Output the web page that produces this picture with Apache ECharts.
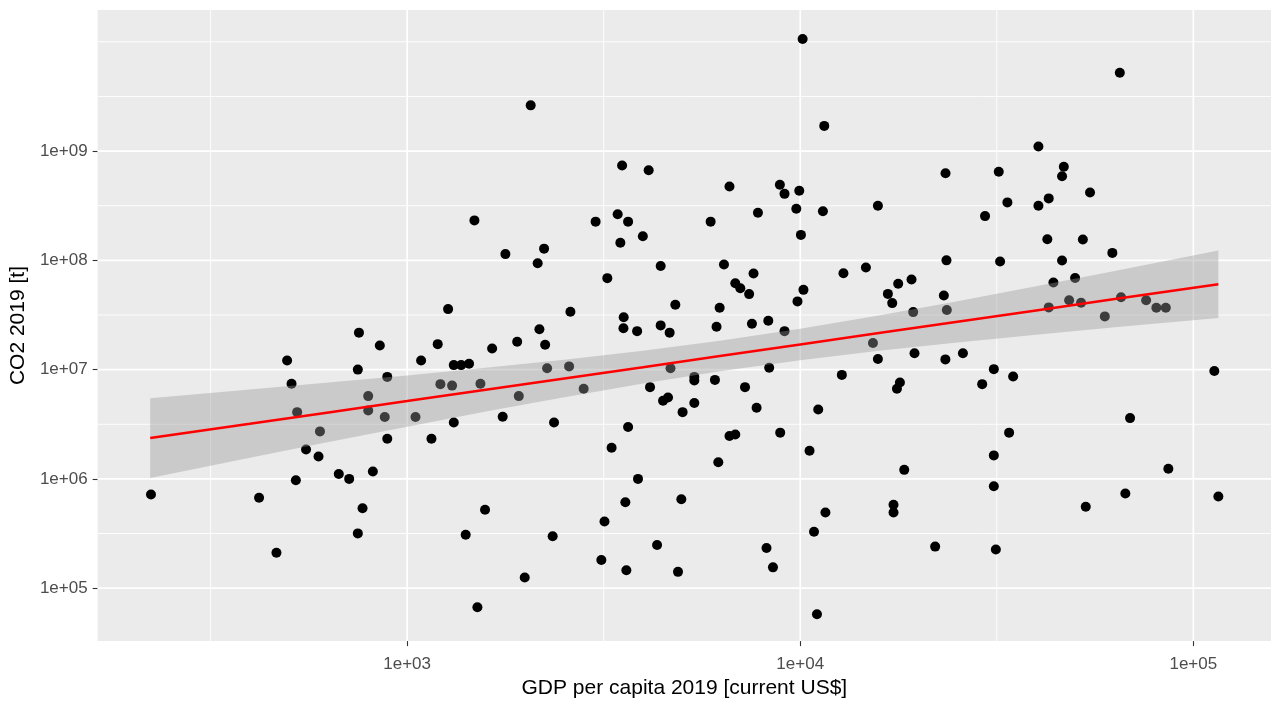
<!DOCTYPE html>
<html><head><meta charset="utf-8">
<script src="https://cdn.jsdelivr.net/npm/echarts@6/dist/echarts.min.js"></script>
<style>html,body{margin:0;padding:0;background:#fff}#c{width:1272px;height:704px}</style>
</head><body><div id="c"></div>
<script>
// GDP per capita 2019 [current US$]
const gdp = [223,420,465,495,508,525,521,553,595,600,
670,712,749,754,749,770,796,796,818,852,
877,890,890,1050,1085,1153,1196,1215,1271,1301,
1314,1314,1372,1437,1483,1409,1509,1536,1578,1645,
1750,1778,1905,1923,1991,2062,2148,2170,2230,2244,
2270,2345,2364,2582,2602,2812,3016,3119,3177,3230,
3312,3432,3486,3522,3555,3550,3590,3611,3648,3648,
3846,3866,3977,4115,4148,4323,4415,4415,4477,4609,
4653,4677,4811,4887,4983,5020,5377,5377,5377,5916,
6067,6124,6188,6237,6397,6607,6607,6836,6836,7039,
7236,7413,7536,7607,7744,7805,8207,8293,8337,8524,
8876,8892,9120,9120,9772,9840,9943,10040,10140,10190,
10560,10840,11030,11110,11420,11510,11590,12880,12760,14690,
15310,15760,15760,16710,17140,17270,17270,17620,17930,17750,
18390,19190,19380,19530,22040,23190,23420,23400,23550,23600,
25930,29030,29520,31080,31080,31080,31450,31990,32240,33650,
33990,34800,40360,40360,42870,42520,42870,44060,46350,46350,
46830,48310,50030,51810,52360,53250,54600,59540,62230,65010,
65480,67150,69030,75850,80530,85110,86390,113100,115800];
// CO2 2019 [t]
const co2 = [7.2e5,6.71e5,2.11e5,1.21e7,7.41e6,4.08e6,9.7e5,1.86e6,1.60e6,2.72e6,
1.11e6,1.0e6,1.0e7,2.18e7,3.17e5,5.39e5,5.72e6,4.23e6,1.17e6,1.66e7,
3.68e6,8.58e6,2.33e6,3.68e6,1.21e7,2.33e6,1.71e7,7.36e6,3.58e7,7.14e6,
1.10e7,3.28e6,1.10e7,1.13e7,2.32e8,3.08e5,6.7e4,7.41e6,5.21e5,1.56e7,
3.70e6,1.14e8,1.80e7,5.72e6,1.25e5,2.62e9,9.42e7,2.34e7,1.28e8,1.69e7,
1.03e7,2.98e5,3.28e6,1.07e7,3.38e7,6.67e6,2.26e8,1.81e5,4.07e5,6.87e7,
1.93e6,2.64e8,1.45e8,7.38e8,3.01e7,2.39e7,6.12e5,1.46e5,2.26e8,2.98e6,
2.25e7,1.0e6,1.66e8,6.68e8,6.91e6,2.48e5,8.89e7,2.54e7,5.18e6,5.56e6,
2.18e7,1.03e7,3.92e7,1.41e5,6.51e5,4.08e6,8.58e6,7.94e6,4.94e6,2.26e8,
8.05e6,2.47e7,1.42e6,3.68e7,9.16e7,4.74e8,2.47e6,6.18e7,2.55e6,5.56e7,
6.91e6,4.91e7,2.63e7,7.59e7,4.48e6,2.73e8,2.33e5,2.80e7,1.04e7,1.55e5,
4.92e8,2.65e6,4.06e8,2.25e7,2.97e8,4.21e7,4.34e8,1.71e8,1.06e10,5.37e7,
1.81e6,3.28e5,5.78e4,4.32e6,2.81e8,1.70e9,4.93e5,7.62e7,8.95e6,8.59e7,
1.75e7,3.16e8,1.25e7,4.93e7,4.06e7,5.79e5,4.93e5,6.67e6,7.61e6,6.10e7,
1.21e6,6.68e7,3.36e7,1.41e7,2.40e5,4.77e7,6.27e8,1.24e7,1.0e8,3.51e7,
1.41e7,7.36e6,2.54e8,1.01e7,1.64e6,8.56e5,2.26e5,6.46e8,9.75e7,3.39e8,
2.65e6,8.64e6,1.10e9,3.16e8,3.69e8,1.56e8,3.71e7,6.27e7,9.96e7,5.89e8,
7.18e8,4.32e7,6.90e7,4.09e7,1.55e8,5.55e5,4.18e8,3.07e7,1.17e8,5.20e9,
4.60e7,7.34e5,3.60e6,4.32e7,3.68e7,3.68e7,1.24e6,9.73e6,6.90e5];
// fitted line and its confidence band
const fitX  = [222,398,631,1000,1585,2512,3981,6310,10000,15850,25120,39810,63100,115800];
const fitY  = [2.37e6,3.20e6,4.06e6,5.15e6,6.55e6,8.30e6,1.05e7,1.34e7,1.70e7,2.16e7,2.74e7,3.48e7,4.42e7,6.04e7];
const fitLo = [1.02e6,1.56e6,2.17e6,3.00e6,4.13e6,5.60e6,7.48e6,9.70e6,1.22e7,1.49e7,1.77e7,2.08e7,2.44e7,2.96e7];
const fitHi = [5.48e6,6.58e6,7.62e6,8.85e6,1.04e7,1.23e7,1.49e7,1.85e7,2.37e7,3.13e7,4.23e7,5.79e7,8.0e7,1.23e8];
// tick labels and grid breaks
const xTicks = [1e3,1e4,1e5];
const yTicks = [1e5,1e6,1e7,1e8,1e9];
const xMinor = [316.2,3162,31623];
const yMinor = [3.162e5,3.162e6,3.162e7,3.162e8,3.162e9,1e10];

const L = Math.log10;
const XMIN = 2.2126, XMAX = 5.1976, YMIN = 4.5155, YMAX = 10.291;
const FONT = "'Liberation Sans', Arial, sans-serif";
const fmt = v => '1e+' + (Math.round(v) < 10 ? '0' : '') + Math.round(v);

const chart = echarts.init(document.getElementById('c'), null, {renderer: 'canvas'});
chart.setOption({
  animation: false,
  grid: {left: 97, right: 1, top: 10, bottom: 61, show: true, backgroundColor: '#EBEBEB', borderWidth: 0, containLabel: false},
  xAxis: {
    type: 'value', min: XMIN, max: XMAX,
    axisLine: {show: false, onZero: false},
    splitLine: {show: false},
    axisTick: {show: true, customValues: xTicks.map(L), length: 5, lineStyle: {color: '#333333', width: 1.1}},
    axisLabel: {customValues: xTicks.map(L), formatter: fmt, color: '#4D4D4D', fontSize: 17, fontFamily: FONT, margin: 15},
    name: 'GDP per capita 2019 [current US$]', nameLocation: 'middle', nameGap: 34,
    nameTextStyle: {fontSize: 21, color: '#000000', fontFamily: FONT}
  },
  yAxis: {
    type: 'value', min: YMIN, max: YMAX,
    axisLine: {show: false, onZero: false},
    splitLine: {show: false},
    axisTick: {show: true, customValues: yTicks.map(L), length: 5, lineStyle: {color: '#333333', width: 1.1}},
    axisLabel: {customValues: yTicks.map(L), formatter: fmt, color: '#4D4D4D', fontSize: 17, fontFamily: FONT, margin: 10},
    name: 'CO2 2019 [t]', nameLocation: 'middle', nameGap: 62, nameRotate: 90,
    nameTextStyle: {fontSize: 21, color: '#000000', fontFamily: FONT}
  },
  series: [
    {
      type: 'custom', z: 1, silent: true, clip: true, data: [[3, 7]],
      renderItem: (params, api) => {
        const ch = [];
        const v = (x, w) => { const a = api.coord([x, YMIN]), b = api.coord([x, YMAX]);
          ch.push({type: 'line', shape: {x1: a[0], y1: a[1], x2: b[0], y2: b[1]}, style: {stroke: '#FFFFFF', lineWidth: w}}); };
        const h = (y, w) => { const a = api.coord([XMIN, y]), b = api.coord([XMAX, y]);
          ch.push({type: 'line', shape: {x1: a[0], y1: a[1], x2: b[0], y2: b[1]}, style: {stroke: '#FFFFFF', lineWidth: w}}); };
        xMinor.forEach(x => v(L(x), 0.9));
        yMinor.forEach(y => h(L(y), 0.9));
        xTicks.forEach(x => v(L(x), 1.7));
        yTicks.forEach(y => h(L(y), 1.7));
        return {type: 'group', children: ch};
      }
    },
    {
      type: 'scatter', z: 2, symbol: 'circle', symbolSize: 10, silent: true,
      itemStyle: {color: '#000000', opacity: 1},
      data: gdp.map((g, i) => [L(g), L(co2[i])])
    },
    {
      type: 'custom', z: 3, silent: true, clip: true, data: [[3, 7]],
      renderItem: (params, api) => {
        const pts = [];
        for (let i = 0; i < fitX.length; i++) pts.push(api.coord([L(fitX[i]), L(fitHi[i])]));
        for (let i = fitX.length - 1; i >= 0; i--) pts.push(api.coord([L(fitX[i]), L(fitLo[i])]));
        return {type: 'polygon', shape: {points: pts}, style: {fill: 'rgba(153,153,153,0.4)'}};
      }
    },
    {
      type: 'line', z: 4, silent: true, symbol: 'none', smooth: false,
      lineStyle: {color: '#FF0000', width: 2.5},
      data: fitX.map((x, i) => [L(x), L(fitY[i])])
    }
  ]
});
</script></body></html>
